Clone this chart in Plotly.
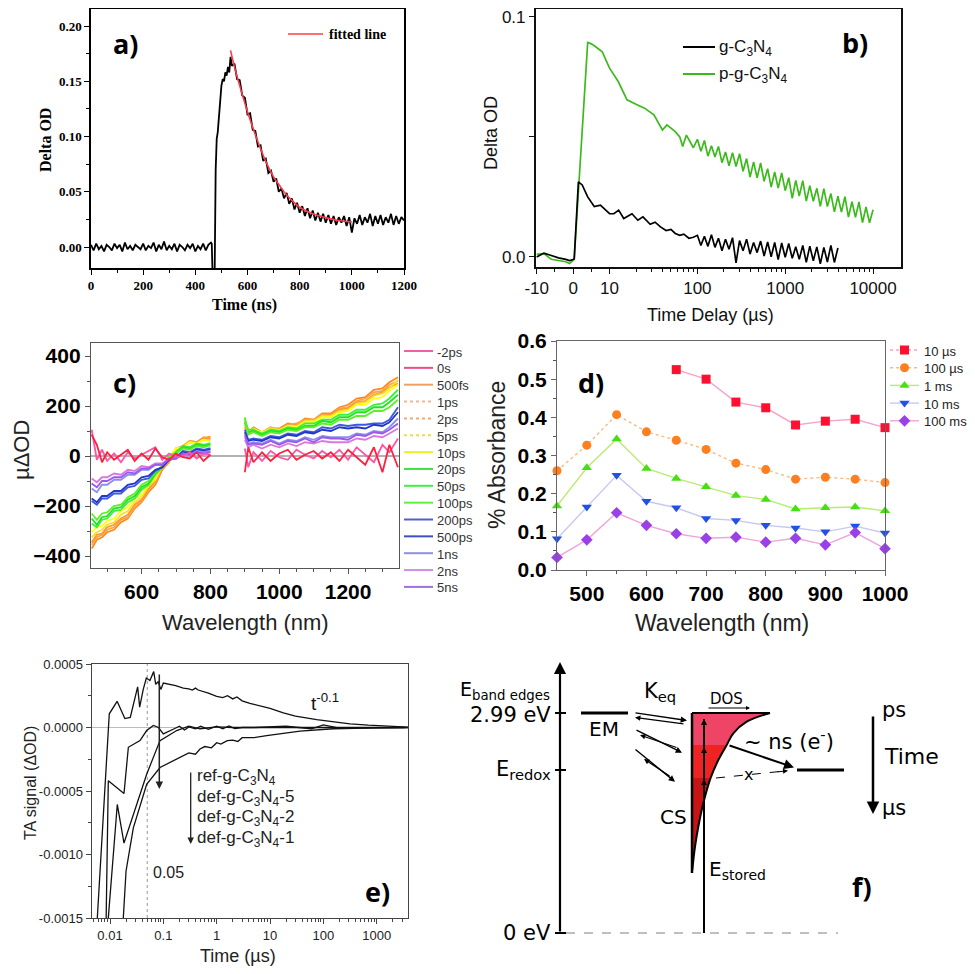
import math
import plotly.graph_objects as go

W, H = 975, 974          # page (reference) size
OFF = 8                  # the page body margin around the figure
FW, FH = W - 2 * OFF, H - 2 * OFF   # figure size so the page does not overflow
SERIF = "Liberation Serif"
SANS = "Liberation Sans"
DJ = "DejaVu Sans"
LBL = "Open Sans"


def dx(px):
    return (px - OFF) / FW


def dy(py):
    return min(1.0, 1 - (py - OFF) / FH)


# ===================== (a) =====================
a_base_v = [0.002, -0.003, 0.003, -0.002, 0.001, -0.004, 0.002, 0.000, -0.003, 0.003,
            -0.001, 0.002, -0.004, 0.004, -0.002, 0.001, -0.003, 0.002, 0.000, -0.002,
            0.003, -0.003, 0.001, -0.001, 0.004, -0.004, 0.002, -0.002, 0.005, -0.003,
            0.001, -0.002, 0.003, -0.004, 0.002, 0.000, -0.003, 0.002, -0.001, 0.003,
            -0.004, 0.001, -0.002, 0.003, -0.003, 0.002, 0.004]          # 0..460 ns
a_rise_t = [463, 466, 474, 478, 482, 486, 490, 495, 500, 505, 510, 515, 520, 525, 530, 535]
a_rise_v = [0.003, -0.025, -0.025, 0.070, 0.098, 0.104, 0.118, 0.135, 0.146, 0.152,
            0.150, 0.158, 0.155, 0.163, 0.158, 0.172]
a_decay_v = [0.164, 0.166, 0.152, 0.151, 0.137, 0.135, 0.120, 0.121, 0.106, 0.105,
             0.091, 0.092, 0.078, 0.080, 0.067, 0.069, 0.059, 0.062, 0.050, 0.053,
             0.044, 0.049, 0.039, 0.044, 0.034, 0.040, 0.031, 0.037, 0.028, 0.035,
             0.026, 0.033, 0.024, 0.031, 0.023, 0.030, 0.022, 0.029, 0.021, 0.028,
             0.020, 0.027, 0.022, 0.028, 0.019, 0.027, 0.013, 0.026, 0.021, 0.029,
             0.020, 0.027, 0.022, 0.030, 0.019, 0.028, 0.021, 0.029, 0.020, 0.027,
             0.022, 0.030, 0.020, 0.028, 0.021, 0.027, 0.024]          # 540..1200 ns
a_fit_t = [535, 550, 575, 600, 625, 650, 675, 700, 725, 750, 775, 800, 850, 900, 950, 1000]
a_fit_v = [0.178, 0.163, 0.142, 0.1225, 0.105, 0.089, 0.075, 0.0635, 0.055, 0.047,
           0.041, 0.036, 0.030, 0.0266, 0.024, 0.0227]
a_xticks = [0, 200, 400, 600, 800, 1000, 1200]
a_yticks = [0.0, 0.05, 0.10, 0.15, 0.20]

# ===================== (b) =====================
b_early_t = [-10, -8, -6, -4, -2, -1, 0, 0.3]
b_green_early = [0.0011, 0.0014, -0.0010, -0.0016, -0.0020, -0.0027, -0.0015, -0.0010]
b_black_early = [0.0000, 0.0016, 0.0006, -0.0004, -0.0010, -0.0015, -0.0011, -0.0008]
b_green_mid_t = [4, 5, 6, 7, 8, 9, 10, 12.6, 15.8, 20, 25, 32, 40, 45, 50, 56, 63, 68, 75, 80, 90]
b_green_mid = [0.0894, 0.0888, 0.0878, 0.0866, 0.0855, 0.0820, 0.0787, 0.0730, 0.0655, 0.0636,
               0.0620, 0.0592, 0.0529, 0.0550, 0.0536, 0.0522, 0.0500, 0.0460, 0.0508, 0.0490, 0.0455]
b_black_mid_t = [1.45, 2.5, 4, 5.8, 7.5, 10, 11.2, 12.7, 14.5, 16, 18, 21, 24, 29, 33, 38,
                 44, 50, 56, 63, 70, 80, 90]
b_black_mid = [0.0313, 0.0300, 0.0250, 0.0210, 0.0216, 0.0180, 0.0180, 0.0195, 0.0160, 0.0170,
               0.0180, 0.0153, 0.0167, 0.0136, 0.0145, 0.0125, 0.0110, 0.0115, 0.0098, 0.0090,
               0.0095, 0.0078, 0.0082]
# noisy tails, sampled every 0.04 decade starting at 100 us
b_green_tail = [0.0490, 0.0440, 0.0485, 0.0420, 0.0463, 0.0417, 0.0460, 0.0393, 0.0437, 0.0380,
                0.0434, 0.0377, 0.0430, 0.0357, 0.0410, 0.0333, 0.0396, 0.0330, 0.0392, 0.0315,
                0.0368, 0.0291, 0.0354, 0.0287, 0.0350, 0.0276, 0.0330, 0.0244, 0.0319, 0.0254,
                0.0318, 0.0233, 0.0297, 0.0232, 0.0286, 0.0211, 0.0285, 0.0210, 0.0264, 0.0188,
                0.0253, 0.0187, 0.0251, 0.0166, 0.0230, 0.0165, 0.0229, 0.0143, 0.0208, 0.0142,
                0.0197]
b_black_tail = [0.0090, 0.0048, 0.0086, 0.0044, 0.0092, 0.0040, 0.0078, 0.0026, 0.0074, 0.0032,
                0.0080, -0.0025, 0.0068, 0.0026, 0.0074, 0.0012, 0.0060, 0.0018, 0.0066, 0.0004,
                0.0062, 0.0001, 0.0060, -0.0011, 0.0058, -0.0002, 0.0056, -0.0006, 0.0042, -0.0010,
                0.0048, -0.0023, 0.0045, -0.0016, 0.0042, -0.0029, 0.0040, -0.0021, 0.0048, -0.0023,
                0.0037]
b_tick_t = [-10, 0, 10, 100, 1000, 10000]
B_LIN = 0.415  # width (in decades) of the linear -10..0 and 0..10 parts


def b_u(t):
    return math.log10(t) if t >= 10 else 1 + (t - 10) / 10 * B_LIN


# ===================== (c) =====================
c_wl1 = [455, 470, 485, 500, 520, 540, 560, 580, 600, 620, 640, 660, 680, 700, 720, 740, 760, 780, 800]
c_wl2 = [900, 910, 925, 950, 975, 1000, 1025, 1050, 1075, 1100, 1125, 1150, 1175, 1200, 1225,
         1250, 1275, 1300, 1320, 1345]
c_labels = ['-2ps', '0s', '500fs', '1ps', '2ps', '5ps', '10ps', '20ps', '50ps', '100ps',
            '200ps', '500ps', '1ns', '2ns', '5ns']
c_colors = ['#ff55a5', '#ff2040', '#ff8a1a', '#ffa448', '#ff9632', '#f2e030', '#ffff10',
            '#3cf03c', '#22e022', '#5cf028', '#3a5ae0', '#2436c8', '#8a90ee', '#dc78dc', '#9a58ee']
c_legend_colors = ['#f060a8', '#f04a88', '#f0a060', '#f4b888', '#f2a870', '#ece040', '#f0f020',
                   '#40e040', '#40f040', '#60f040', '#5060c8', '#4050c0', '#9090e0', '#d090e0', '#a070e0']
c_dash = ['solid', 'solid', 'solid', 'dot', 'dot', 'dot', 'solid', 'solid', 'solid', 'solid',
          'solid', 'solid', 'solid', 'solid', 'solid']
c_s1 = [
    [105, -15, 25, -20, 10, -25, 15, -10, 5, 20, 35, -15, 10, -5, 0, 15, -10, 10, 5],
    [85, 45, -25, 15, -15, 5, 25, -20, 10, -15, 30, -5, -15, 10, -5, -10, 15, -20, 5],
    [-370, -335, -325, -305, -295, -265, -250, -210, -185, -145, -115, -55, -25, 25, 35, 60, 55, 70, 78],
    [-355, -325, -315, -295, -285, -255, -245, -205, -180, -135, -105, -50, -20, 30, 40, 60, 55, 75, 72],
    [-345, -315, -310, -285, -275, -250, -235, -195, -175, -130, -100, -45, -15, 30, 40, 55, 55, 70, 68],
    [-325, -305, -295, -275, -265, -235, -220, -185, -165, -120, -95, -40, -10, 30, 35, 55, 50, 65, 62],
    [-305, -285, -280, -260, -250, -220, -205, -170, -155, -115, -90, -35, -5, 30, 35, 55, 50, 65, 58],
    [-270, -285, -255, -250, -220, -215, -185, -170, -135, -115, -75, -45, 0, 15, 40, 35, 50, 45, 52],
    [-250, -275, -245, -240, -210, -205, -175, -160, -125, -110, -70, -45, 0, 10, 35, 30, 45, 40, 47],
    [-230, -255, -230, -225, -200, -195, -165, -150, -115, -100, -65, -40, 0, 10, 30, 25, 40, 35, 42],
    [-180, -195, -170, -170, -150, -150, -125, -120, -95, -90, -60, -45, -15, -5, 20, 15, 30, 25, 32],
    [-170, -185, -160, -160, -140, -140, -115, -110, -85, -80, -55, -45, -15, -10, 15, 10, 25, 20, 27],
    [-130, -145, -115, -115, -95, -95, -75, -75, -55, -55, -35, -35, -10, -10, 10, 5, 20, 15, 22],
    [-90, -105, -85, -85, -70, -75, -55, -60, -40, -45, -30, -30, -10, -10, 5, 0, 15, 5, 17],
    [-110, -125, -100, -100, -85, -85, -65, -70, -50, -50, -35, -35, -10, -10, 10, 5, 15, 10, 17],
]
c_s2 = [
    [30, -45, 15, -20, 20, -5, -15, 25, 5, -10, 20, -5, 25, -15, 35, 5, -25, 45, 15, 70],
    [-65, 35, -25, 15, -20, 10, 25, -15, 5, 20, -10, 15, -20, 25, -5, -35, 35, -65, 45, -45],
    [125, 95, 115, 95, 110, 110, 130, 125, 150, 145, 170, 170, 195, 205, 230, 235, 265, 270, 295, 315],
    [115, 90, 110, 95, 115, 105, 125, 130, 145, 145, 165, 165, 190, 195, 220, 230, 255, 260, 285, 300],
    [115, 95, 105, 90, 105, 105, 120, 120, 140, 140, 160, 165, 185, 190, 215, 220, 245, 255, 275, 290],
    [135, 95, 110, 95, 110, 105, 120, 120, 140, 140, 160, 160, 180, 185, 210, 215, 240, 250, 270, 305],
    [125, 100, 105, 95, 105, 100, 120, 115, 135, 135, 155, 155, 175, 180, 205, 205, 230, 235, 260, 285],
    [145, 105, 105, 90, 105, 100, 115, 110, 130, 130, 145, 145, 165, 165, 185, 185, 205, 210, 230, 265],
    [135, 95, 100, 85, 100, 95, 110, 105, 120, 120, 140, 135, 155, 155, 175, 175, 195, 195, 215, 245],
    [155, 85, 95, 80, 95, 90, 105, 100, 115, 115, 130, 125, 145, 145, 160, 160, 180, 180, 195, 225],
    [105, 65, 70, 65, 80, 75, 90, 85, 100, 95, 115, 110, 125, 120, 125, 125, 130, 130, 145, 195],
    [95, 60, 65, 60, 75, 70, 85, 80, 95, 90, 105, 100, 115, 110, 115, 110, 125, 120, 135, 175],
    [75, 50, 55, 50, 65, 50, 65, 60, 75, 65, 80, 75, 75, 75, 90, 85, 100, 95, 115, 150],
    [65, 35, 45, 30, 45, 35, 50, 40, 55, 50, 60, 55, 55, 55, 70, 65, 80, 75, 90, 110],
    [85, 45, 50, 45, 60, 45, 60, 55, 70, 55, 75, 70, 70, 65, 85, 80, 95, 90, 105, 130],
]
c_draw_order = [2, 3, 4, 5, 6, 7, 8, 9, 10, 11, 12, 13, 14, 0, 1]

# ===================== (d) =====================
d_wl = [450, 500, 550, 600, 650, 700, 750, 800, 850, 900, 950, 1000]
d_labels = ['10 µs', '100 µs', '1 ms', '10 ms', '100 ms']
d_vals = [
    [None, None, None, None, 0.525, 0.500, 0.440, 0.425, 0.380, 0.390, 0.395, 0.373],
    [0.260, 0.327, 0.407, 0.362, 0.340, 0.316, 0.280, 0.263, 0.238, 0.243, 0.238, 0.229],
    [0.168, 0.268, 0.343, 0.266, 0.240, 0.218, 0.195, 0.185, 0.160, 0.163, 0.165, 0.155],
    [0.082, 0.165, 0.248, 0.180, 0.163, 0.135, 0.130, 0.117, 0.110, 0.100, 0.115, 0.097],
    [0.033, 0.079, 0.150, 0.117, 0.095, 0.083, 0.086, 0.073, 0.083, 0.066, 0.098, 0.056],
]
d_marker = ['square', 'circle', 'triangle-up', 'triangle-down', 'diamond']
d_mcolor = ['#ff1030', '#ff7f1e', '#44e010', '#2050e8', '#9a40e8']
d_lcolor = ['#f4a4cc', '#f8bb80', '#b8ec70', '#c8c8f0', '#f0a4d8']
d_ldash = ['solid', 'dot', 'solid', 'solid', 'solid']

# ===================== (e) =====================
e_ref_t = [0.0056, 0.0097, 0.0136, 0.019, 0.024, 0.033, 0.036, 0.042, 0.048, 0.056, 0.066, 0.072,
           0.080, 0.090, 0.10, 0.13, 0.17, 0.237, 0.30, 0.35, 0.40, 0.45, 0.50, 0.70, 1.0, 1.3,
           1.6, 2.0, 2.4, 3.0, 4.2, 7, 10, 17.8, 30, 75, 150, 316, 700, 1333, 2500, 5000]
e_ref_v = [-0.0016, 0.000108, 0.000206, 0.00007, 0.00008, 0.00032, 0.00016, 0.00030, 0.00039,
           0.00037, 0.00044, 0.00034, 0.00036, 0.00030, 0.00035, 0.00034, 0.00033, 0.00031,
           0.000305, 0.000295, 0.00031, 0.000295, 0.00029, 0.00027, 0.000245, 0.000235, 0.00025,
           0.000225, 0.00024, 0.00021, 0.00019, 0.000165, 0.00015, 0.000115, 0.00009, 0.000062,
           0.000045, 0.000029, 0.000018, 0.00001, 0.000004, 0.0]
e_d5_t = [0.0084, 0.0093, 0.0183, 0.0221, 0.0365, 0.0487, 0.065, 0.081, 0.10, 0.13, 0.16, 0.20,
          0.25, 0.30, 0.40, 0.50, 0.70, 1.0, 1.3, 1.7, 2.2, 3, 10, 100, 1000, 5000]
e_d5_v = [-0.0016, -0.00042, -0.00052, -0.000156, -0.000103, -0.000024, 0.000016, 0.0, -0.00005,
          -0.00003, -0.00001, 0.00001, -0.00002, 0.000005, -0.00001, 0.00001, -0.000015, 0.00001,
          -0.00001, 0.000012, -0.000008, 0.0, 0.0, 0.0, 0.0, 0.0]
e_d2_t = [0.0089, 0.0137, 0.0183, 0.0274, 0.0487, 0.0866, 0.178, 0.30, 0.487, 1, 2, 5, 20, 60,
          100, 200, 1000, 5000]
e_d2_v = [-0.0016, -0.000606, -0.00091, -0.000685, -0.000368, -0.000103, -0.000024, 0.00001,
          -0.00001, 0.000005, 0.0, 0.0, 0.00001, -0.00001, 0.00002, -0.000005, 0.0, 0.0]
e_d1_t = [0.0172, 0.020, 0.0274, 0.0487, 0.0866, 0.205, 0.30, 0.40, 0.487, 0.60, 0.80, 1.0, 1.2,
          1.58, 2.0, 2.5, 3.0, 5, 8.66, 36.5, 154, 1000, 3400]
e_d1_v = [-0.0016, -0.00113, -0.00079, -0.000447, -0.000315, -0.000236, -0.00020, -0.00021,
          -0.000169, -0.00015, -0.00016, -0.00012, -0.00013, -0.000103, -0.00010, -0.00011,
          -0.00008, -0.00008, -0.0000635, -0.000029, -0.00001, -0.000003, 0.0]
e_marker_t = 0.05
e_xticks = [0.01, 0.1, 1, 10, 100, 1000]
e_xticktext = ['0.01', '0.1', '1', '10', '100', '1000']
e_yticks = [-0.0015, -0.0010, -0.0005, 0.0, 0.0005]
e_yticktext = ['-0.0015', '-0.0010', '-0.0005', '0.0000', '0.0005']
e_names = ['ref-g-C<sub>3</sub>N<sub>4</sub>', 'def-g-C<sub>3</sub>N<sub>4</sub>-5',
           'def-g-C<sub>3</sub>N<sub>4</sub>-2', 'def-g-C<sub>3</sub>N<sub>4</sub>-1']

# ===================== (f) schematic (page pixel coordinates) =====================
f_dos_x = [770, 746.7, 733.3, 726.7, 718.3, 710.6, 703.3, 698.3, 695, 692.3]
f_dos_y = [713, 721.7, 733.3, 745, 760, 778, 803.3, 826.7, 846.7, 870]

fig = go.Figure()

# ---- (a)
a_t = [10 * i for i in range(len(a_base_v))] + a_rise_t + [540 + 10 * i for i in range(len(a_decay_v))]
a_v = a_base_v + a_rise_v + a_decay_v
fig.add_trace(go.Scatter(x=a_t, y=a_v, mode='lines', line=dict(color='black', width=1.8),
                         xaxis='x', yaxis='y'))
fig.add_trace(go.Scatter(x=a_fit_t, y=a_fit_v, mode='lines',
                         line=dict(color='#ff3a4a', width=1.6, shape='spline'), xaxis='x', yaxis='y'))

# ---- (b)
g_x = [b_u(t) for t in b_early_t] + [b_u(t) for t in b_green_mid_t] + [2 + 0.04 * i for i in range(len(b_green_tail))]
g_y = b_green_early + b_green_mid + b_green_tail
k_x = [b_u(t) for t in b_early_t] + [b_u(t) for t in b_black_mid_t] + [2 + 0.04 * i for i in range(len(b_black_tail))]
k_y = b_black_early + b_black_mid + b_black_tail
fig.add_trace(go.Scatter(x=g_x, y=g_y, mode='lines', line=dict(color='#3cba1c', width=1.7),
                         xaxis='x2', yaxis='y2'))
fig.add_trace(go.Scatter(x=k_x, y=k_y, mode='lines', line=dict(color='black', width=1.7),
                         xaxis='x2', yaxis='y2'))

# ---- (c)
fig.add_trace(go.Scatter(x=[453, 1348], y=[0, 0], mode='lines', line=dict(color='#666666', width=1.2),
                         xaxis='x3', yaxis='y3'))
for i in c_draw_order:
    fig.add_trace(go.Scatter(x=c_wl1 + [850] + c_wl2, y=c_s1[i] + [None] + c_s2[i], mode='lines',
                             line=dict(color=c_colors[i], width=1.8), connectgaps=False,
                             xaxis='x3', yaxis='y3'))

# ---- (d)
for i in range(5):
    fig.add_trace(go.Scatter(x=d_wl, y=d_vals[i], mode='lines+markers',
                             line=dict(color=d_lcolor[i], width=1.4, dash=d_ldash[i]),
                             marker=dict(symbol=d_marker[i], color=d_mcolor[i], size=9),
                             xaxis='x4', yaxis='y4', cliponaxis=False))

# ---- (e)
fig.add_trace(go.Scatter(x=[0.004, 5000], y=[0, 0], mode='lines', line=dict(color='#bbbbbb', width=1),
                         xaxis='x5', yaxis='y5'))
fig.add_trace(go.Scatter(x=[e_marker_t, e_marker_t], y=[-0.0015, 0.0005], mode='lines',
                         line=dict(color='#999999', width=1, dash='dot'), xaxis='x5', yaxis='y5'))
for tt, vv in [(e_ref_t, e_ref_v), (e_d5_t, e_d5_v), (e_d2_t, e_d2_v), (e_d1_t, e_d1_v)]:
    fig.add_trace(go.Scatter(x=tt, y=vv, mode='lines', line=dict(color='#111111', width=1.3),
                             xaxis='x5', yaxis='y5'))

# ---- overlay (page pixel coordinates): manual legends + panel f
OV = dict(xaxis='x7', yaxis='y7')
d_leg_y = [350 + 17.7 * i for i in range(5)]
for i in range(5):
    fig.add_trace(go.Scatter(x=[890, 919], y=[d_leg_y[i]] * 2, mode='lines',
                             line=dict(color=d_lcolor[i], width=1.4, dash='dot' if i < 2 else 'solid'), **OV))
    fig.add_trace(go.Scatter(x=[904.5], y=[d_leg_y[i]], mode='markers',
                             marker=dict(symbol=d_marker[i], color=d_mcolor[i], size=9), **OV))

bands = [
    ([692, 770, 746.7, 733.3, 726.7, 692], [713, 713, 721.7, 733.3, 745, 745], '#ee4466'),
    ([692, 726.7, 718.3, 710.6, 692], [745, 745, 760, 778, 778], '#ee2424'),
    ([692, 710.6, 703.3, 698.3, 695, 692.3, 692], [778, 778, 803.3, 826.7, 846.7, 870, 873], '#c81414'),
]
for bx, by, col in bands:
    fig.add_trace(go.Scatter(x=bx, y=by, mode='lines', fill='toself', fillcolor=col,
                             line=dict(width=0, color=col), **OV))
fig.add_trace(go.Scatter(x=f_dos_x, y=f_dos_y, mode='lines', line=dict(color='black', width=2,
                         shape='spline'), **OV))


def frame(color='black', width=1.5):
    return dict(showline=True, linecolor=color, linewidth=width, mirror=True, showgrid=False,
                zeroline=False, ticks='outside', tickcolor=color, ticklen=5, tickwidth=1.3,
                automargin=False, ticklabeloverflow='allow')


fig.update_layout(
    template='none',
    width=FW, height=FH, margin=dict(l=0, r=0, t=0, b=0, pad=0, autoexpand=False),
    paper_bgcolor='white', plot_bgcolor='rgba(0,0,0,0)', showlegend=False, hovermode=False,
    xaxis=dict(domain=[dx(91), dx(404)], range=[0, 1200], anchor='y', tickvals=a_xticks,
               minor=dict(tickvals=[100, 300, 500, 700, 900, 1100], ticks='outside', ticklen=3,
                          tickcolor='black'),
               tickfont=dict(family=SERIF, size=13, color='black', weight='bold'), **frame()),
    yaxis=dict(domain=[dy(268), dy(9)], range=[-0.019, 0.2154], anchor='x', tickvals=a_yticks,
               tickformat='.2f',
               minor=dict(tickvals=[0.025, 0.075, 0.125, 0.175], ticks='outside', ticklen=3,
                          tickcolor='black'),
               tickfont=dict(family=SERIF, size=13, color='black', weight='bold'), **frame()),
    xaxis2=dict(domain=[dx(535.7), dx(900.7)], range=[0.159, 4.315], anchor='y2',
                tickvals=[b_u(t) for t in b_tick_t], ticktext=[str(t) for t in b_tick_t],
                minor=dict(tickvals=[b_u(-5), b_u(5)] + [math.log10(k * 10 ** d) for d in (1, 2, 3)
                                                          for k in range(2, 10)],
                           ticks='outside', ticklen=3, tickcolor='#111'),
                tickfont=dict(family=SANS, size=17, color='#111'), **frame('#111')),
    yaxis2=dict(domain=[dy(267), dy(9)], range=[-0.0042, 0.10333], anchor='x2',
                tickvals=[0, 0.05, 0.1], ticktext=['0.0', '', '0.1'],
                tickfont=dict(family=SANS, size=17, color='#111'), **frame('#111')),
    xaxis3=dict(domain=[dx(91), dx(399)], range=[453, 1348], anchor='y3',
                tickvals=[600, 800, 1000, 1200],
                minor=dict(tickvals=[500, 550, 650, 700, 750, 850, 900, 950, 1050, 1100, 1150,
                                     1250, 1300], ticks='outside', ticklen=3, tickcolor='#555'),
                tickfont=dict(family=SANS, size=21, color='black', weight='bold'), **frame('#555', 1.3)),
    yaxis3=dict(domain=[dy(568), dy(343)], range=[-448, 452], anchor='x3',
                tickvals=[-400, -200, 0, 200, 400],
                minor=dict(tickvals=[-300, -100, 100, 300], ticks='outside', ticklen=3, tickcolor='#555'),
                tickfont=dict(family=SANS, size=21, color='black', weight='bold'), **frame('#555', 1.3)),
    xaxis4=dict(domain=[dx(557), dx(885)], range=[450, 1000], anchor='y4',
                tickvals=[500, 600, 700, 800, 900, 1000],
                minor=dict(tickvals=[550, 650, 750, 850, 950], ticks='outside', ticklen=3, tickcolor='#555'),
                tickfont=dict(family=SANS, size=21, color='black', weight='bold'), **frame('#666', 1.2)),
    yaxis4=dict(domain=[dy(570), dy(341)], range=[0, 0.6], anchor='x4',
                tickvals=[0, 0.1, 0.2, 0.3, 0.4, 0.5, 0.6], tickformat='.1f',
                minor=dict(tickvals=[0.05, 0.15, 0.25, 0.35, 0.45, 0.55], ticks='outside', ticklen=3,
                           tickcolor='#555'),
                tickfont=dict(family=SANS, size=21, color='black', weight='bold'), **frame('#666', 1.2)),
    xaxis5=dict(domain=[dx(91.7), dx(408)], type='log', range=[-2.343, 3.587], anchor='y5',
                tickvals=e_xticks, ticktext=e_xticktext,
                minor=dict(tickvals=[k * 10 ** d for d in range(-3, 4) for k in range(2, 10)],
                           ticks='outside', ticklen=3, tickcolor='#444'),
                tickfont=dict(family=SANS, size=13, color='#222'), **frame('#444', 1.3)),
    yaxis5=dict(domain=[dy(918), dy(664)], range=[-0.0015, 0.0005], anchor='x5',
                tickvals=e_yticks, ticktext=e_yticktext,
                minor=dict(tickvals=[-0.00125, -0.00075, -0.00025, 0.00025], ticks='outside',
                           ticklen=3, tickcolor='#444'),
                tickfont=dict(family=SANS, size=13, color='#222'), **frame('#444', 1.3)),
    # overlay axis in page pixels (the figure sits inside the page's body margin)
    xaxis7=dict(domain=[0, 1], range=[OFF, OFF + FW], anchor='y7', visible=False, fixedrange=True,
                automargin=False),
    yaxis7=dict(domain=[0, 1], range=[OFF + FH, OFF], anchor='x7', visible=False, fixedrange=True,
                automargin=False),
)

ann = []


def txt(x, y, s, size, family=SANS, color='black', xanchor='center', angle=0, bold=False):
    ann.append(dict(x=x, y=y, xref='x7', yref='y7', text=s, showarrow=False, xanchor=xanchor,
                    yanchor='middle', textangle=angle,
                    font=dict(family=family, size=size, color=color,
                              weight='bold' if bold else 'normal')))


def arrow(x0, y0, x1, y1, w=2.0, size=1.0, color='black', head=2):
    ann.append(dict(x=x1, y=y1, ax=x0, ay=y0, xref='x7', yref='y7', axref='x7', ayref='y7',
                    text='', showarrow=True, arrowhead=head, arrowwidth=w, arrowsize=size,
                    arrowcolor=color, standoff=0, startstandoff=0))


shapes = []


def seg(x0, y0, x1, y1, color='black', width=2, dash='solid'):
    shapes.append(dict(type='line', x0=x0, y0=y0, x1=x1, y1=y1, xref='x7', yref='y7',
                       line=dict(color=color, width=width, dash=dash)))


for lab, (x, y) in zip(['a)', 'b)', 'c)', 'd)', 'e)', 'f)'],
                       [(125, 43), (855, 42), (124, 382), (591, 382), (377, 891), (862, 886)]):
    txt(x, y, lab, 27, family=LBL, bold=True)

# (a)
txt(45, 140, 'Delta OD', 16, family=SERIF, angle=-90, bold=True)
txt(244, 305, 'Time (ns)', 16, family=SERIF, bold=True)
seg(288, 34, 323, 34, color='#ff3a4a', width=1.6)
txt(327, 34, 'fitted line', 14, family=SERIF, xanchor='left', bold=True)

# (b)
txt(491, 133, 'Delta OD', 18, angle=-90, color='#111')
txt(710, 315, 'Time Delay (µs)', 18, color='#111')
seg(683, 47, 715, 47, color='black', width=2)
seg(683, 74, 715, 74, color='#3cba1c', width=2)
txt(717, 48, 'g-C<sub>3</sub>N<sub>4</sub>', 17, xanchor='left', color='#111')
txt(717, 75, 'p-g-C<sub>3</sub>N<sub>4</sub>', 17, xanchor='left', color='#111')

# (c)
txt(21, 450, 'µΔOD', 22, angle=-90, color='#222')
txt(245, 622, 'Wavelength (nm)', 22, color='#222')
for i, lab in enumerate(c_labels):
    yy = 351 + 16.85 * i
    seg(404, yy, 433, yy, color=c_legend_colors[i], width=2, dash=c_dash[i])
    txt(435, yy + 1, lab, 13, xanchor='left', color='#333')

# (d)
txt(497, 455, '% Absorbance', 23, angle=-90, color='#222')
txt(722, 623, 'Wavelength (nm)', 23, color='#222')
for i, lab in enumerate(d_labels):
    txt(922, d_leg_y[i] + 1, lab, 13, xanchor='left', color='#222')

# (e)
txt(30, 783, 'TA signal (ΔOD)', 16, angle=-90, color='#222')
txt(238, 956, 'Time (µs)', 18, color='#222')
txt(325, 702, 't<sup>-0.1</sup>', 19, color='#111')
arrow(159.3, 673, 159.3, 789, w=1.5, size=1.0, color='#222')
arrow(190.7, 771, 190.7, 844, w=1.3, size=1.0, color='#222')
for i, nm in enumerate(e_names):
    txt(195, 777 + 20.5 * i, nm, 17, xanchor='left', color='#222')
txt(151, 872, '0.05', 16, xanchor='left', color='#222')

# (f)
arrow(560, 933, 560, 662, w=2.2, size=1.1)
for yy in (713, 770, 933):
    seg(555, yy, 566, yy, width=2)
seg(566, 933, 838, 933, color='#aaaaaa', width=1.3, dash='dash')
txt(552, 690, 'E<sub>band edges</sub>', 19, family=DJ, xanchor='right')
txt(553, 715, '2.99 eV', 21, family=DJ, xanchor='right')
txt(553, 770, 'E<sub>redox</sub>', 21, family=DJ, xanchor='right')
txt(553, 933, '0 eV', 21, family=DJ, xanchor='right')
seg(581, 713, 628, 713, width=3)
txt(604, 729, 'EM', 20, family=DJ)
txt(660, 692, 'K<sub>eq</sub>', 21, family=DJ)
arrow(634, 712.7, 687, 720.5, w=1.4, size=0.9)
arrow(685, 724, 635, 717.5, w=1.2, size=0.9)
arrow(635, 729.3, 682, 752.7, w=1.4, size=0.9)
arrow(678, 748, 640, 735, w=1.2, size=0.9)
arrow(634, 748.3, 675, 781.7, w=1.4, size=0.9)
arrow(671, 777, 644, 759, w=1.2, size=0.9)
seg(692, 713, 770, 713, width=2)
seg(692, 713, 692, 873, width=2.5)
seg(704, 719, 704, 933, width=2)
arrow(704, 745, 704, 719, w=1.5, size=0.8)
arrow(704, 778, 704, 747, w=1.5, size=0.8)
arrow(704, 800, 704, 779, w=1.5, size=0.8)
txt(726, 699, 'DOS', 15, family=DJ)
arrow(707, 708, 750, 708, w=1, size=0.8)
txt(742, 740, '~ ns (e<sup>-</sup>)', 21, family=DJ, xanchor='left')
arrow(728, 745, 794, 767.5, w=2, size=1.0)
seg(716, 778, 780, 771.5, width=1, dash='dash')
arrow(776, 772, 788, 770.8, w=1, size=1.0)
txt(748, 774, 'x', 16, family=DJ)
seg(797, 770, 844, 770, width=3)
txt(673, 817, 'CS', 20, family=DJ)
txt(707, 870, 'E<sub>stored</sub>', 20, family=DJ, xanchor='left')
arrow(873, 715, 873, 814, w=2.5, size=1.0)
txt(880, 710, 'ps', 21, family=DJ, xanchor='left')
txt(882, 756, 'Time', 22, family=DJ, xanchor='left')
txt(880, 808, 'µs', 21, family=DJ, xanchor='left')

fig.update_layout(annotations=ann, shapes=shapes)
fig.write_html("out.html")
